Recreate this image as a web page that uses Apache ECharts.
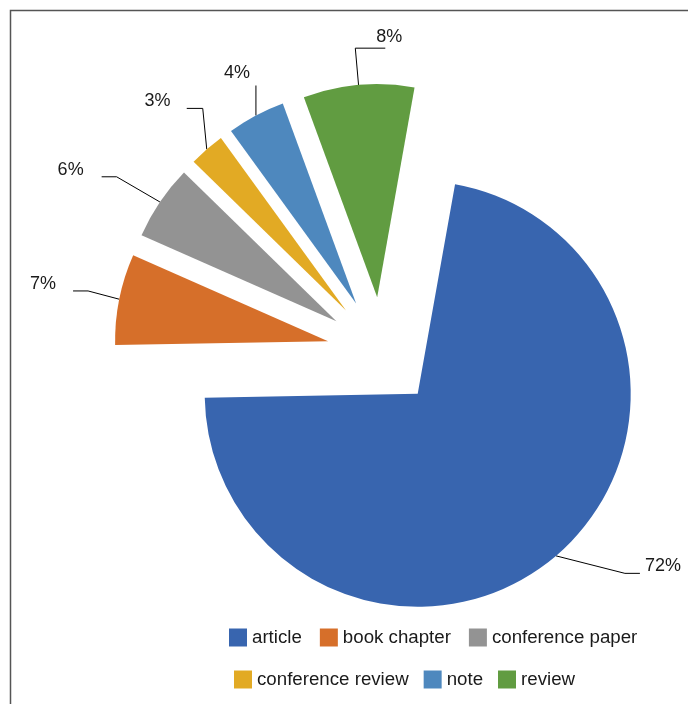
<!DOCTYPE html>
<html><head><meta charset="utf-8">
<script src="https://cdn.jsdelivr.net/npm/echarts@6/dist/echarts.min.js"></script>
<style>html,body{margin:0;padding:0;background:#fff}#c{width:688px;height:704px}</style>
</head><body><div id="c"></div>
<script>
const categories = ['article','book chapter','conference paper','conference review','note','review'];
const values = [71.9, 6.9, 5.7, 2.7, 4.4, 8.4];
const colors = ['#3865AF','#D66F2A','#939393','#E2AA24','#4E88BE','#619C41'];
// label line style per slice: [length, length2, distanceToLabelLine]
const lineLen = [23, 42, 45, 54, 34, 37];
const lineLen2 = [69, 5, 21, 0, 0, 20];
const labelDist = [5, 17, 18, 1, 0, 5];

const chart = echarts.init(document.getElementById('c'), null, {renderer:'canvas'});
const font = 'Liberation Sans, Arial, sans-serif';
const data = categories.map((n,i)=>({
  name:n, value:values[i], selected:true, itemStyle:{color:colors[i]},
  labelLine:{length:lineLen[i], length2:lineLen2[i]},
  label:{distanceToLabelLine:labelDist[i]}
}));
chart.setOption({
  animation:false,
  graphic:[{type:'polyline', shape:{points:[[10.5,704],[10.5,10.5],[688,10.5]]}, style:{stroke:'#555', lineWidth:1.5, fill:null}, silent:true}],
  legend:[
    {data:categories.slice(0,3), left:229, top:628, orient:'horizontal', itemWidth:18, itemHeight:18, itemGap:18, padding:0, icon:'rect',
     textStyle:{fontFamily:font, fontSize:18.7, color:'#1a1a1a'}},
    {data:categories.slice(3), left:234, top:670, orient:'horizontal', itemWidth:18, itemHeight:18, itemGap:15, padding:0, icon:'rect',
     textStyle:{fontFamily:font, fontSize:18.7, color:'#1a1a1a'}}
  ],
  series:[{
    type:'pie', center:[382,352], radius:[0,213], startAngle:79.9, clockwise:true,
    selectedMode:'multiple', selectedOffset:55,
    avoidLabelOverlap:false,
    emphasis:{scale:false},
    select:{itemStyle:{borderWidth:0}},
    itemStyle:{borderWidth:0},
    label:{show:true, position:'outside', formatter:p=>Math.round(p.percent)+'%', fontFamily:font, fontSize:18, color:'#1a1a1a'},
    labelLine:{show:true, lineStyle:{color:'#000', width:1}},
    labelLayout:function(p){
      const pts = p.labelLinePoints;
      if (!pts) return {};
      const r = p.labelRect;
      const p0 = pts[0], p1 = pts[1], p2 = pts[pts.length-1];
      const last = categories.length - 1;
      if (p.dataIndex === last) {
        // review: label sits to the right, above the leader line
        return {
          dx: (p1[0] + 21) - r.x, dy: (p1[1] - 11) - (r.y + r.height/2),
          labelLinePoints:[p0, p1, [p1[0] + 30, p1[1]]]
        };
      }
      if (p.dataIndex === last - 1) {
        // note: vertical leader, label to its upper left
        return {
          dx: (p0[0] - 6) - (r.x + r.width), dy: (p0[1] - 42) - (r.y + r.height/2),
          labelLinePoints:[p0, [p0[0], p0[1] - 30]]
        };
      }
      if (p.dataIndex === last - 2) {
        // conference review: near-vertical leader then short horizontal
        return {
          dy:-7,
          labelLinePoints:[p0, [p0[0] - 4, p2[1]], [p0[0] - 20, p2[1]]]
        };
      }
      const side = p0[0] < p2[0] ? -1 : 1;
      return {dy:-7, labelLinePoints:[p0, [p2[0] + side*15, p2[1]], p2]};
    },
    data:data
  }]
});
</script></body></html>
